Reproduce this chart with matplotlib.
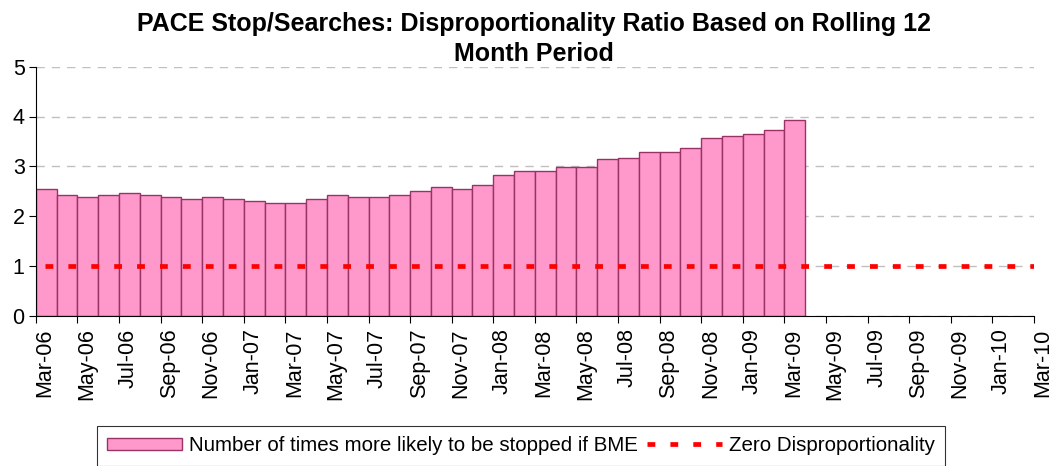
import numpy as np
import matplotlib
matplotlib.use("Agg")
import matplotlib.pyplot as plt
import matplotlib.transforms as mtransforms

plt.rcParams['font.family'] = ['Liberation Sans', 'DejaVu Sans']

# data: rolling 12 month ratio, one bar per month from Mar-06 to Mar-09
ratio = [2.54, 2.42, 2.38, 2.42, 2.46, 2.42, 2.38, 2.34, 2.38, 2.34,
         2.30, 2.26, 2.26, 2.34, 2.42, 2.38, 2.38, 2.42, 2.50, 2.58,
         2.54, 2.62, 2.82, 2.90, 2.90, 2.98, 2.98, 3.14, 3.17, 3.29,
         3.29, 3.37, 3.57, 3.61, 3.65, 3.73, 3.93]
n_months = 48   # Mar-06 .. Mar-10
zero_line = [1] * (n_months + 1)
tick_labels = ['Mar-06', 'May-06', 'Jul-06', 'Sep-06', 'Nov-06', 'Jan-07',
               'Mar-07', 'May-07', 'Jul-07', 'Sep-07', 'Nov-07', 'Jan-08',
               'Mar-08', 'May-08', 'Jul-08', 'Sep-08', 'Nov-08', 'Jan-09',
               'Mar-09', 'May-09', 'Jul-09', 'Sep-09', 'Nov-09', 'Jan-10',
               'Mar-10']

fig = plt.figure(figsize=(10.57, 4.66), dpi=100)
ax = fig.add_axes([0.0338, 0.322, 0.9445, 0.535])

bars = ax.bar(np.arange(len(ratio)), ratio, width=1.0, align='edge',
              color='#FF99CC', edgecolor='#993366', linewidth=1.0, zorder=2)
line, = ax.plot(np.arange(n_months + 1) + 0.45, zero_line, color='#FF0000', lw=3.4,
                linestyle=(0, (1.65, 3.2)), zorder=3)

ax.set_yticks(range(6))
ax.set_xticks(np.arange(0, n_months + 1, 2))
ax.set_xticklabels(tick_labels, rotation=90)
ax.set_xlim(0, n_months)
ax.set_ylim(0, 5)
ax.tick_params(axis='both', labelsize=15.5, direction='out', length=5, color='black')
ax.tick_params(axis='x', pad=4)
ax.tick_params(axis='y', pad=3)
# labels sit in the middle of the month, right of the tick mark
shift = mtransforms.ScaledTranslation(9 / 100, 0, fig.dpi_scale_trans)
for lab in ax.get_xticklabels():
    lab.set_transform(lab.get_transform() + shift)
ax.yaxis.grid(True, color='#c0c0c0', linestyle=(0, (6, 5)), linewidth=1, zorder=0)
ax.set_axisbelow(True)
ax.spines['top'].set_visible(False)
ax.spines['right'].set_visible(False)

fig.text(0.505, 0.975, 'PACE Stop/Searches: Disproportionality Ratio Based on Rolling 12\nMonth Period',
         ha='center', va='top', fontsize=18, fontweight='bold', linespacing=1.35)

leg = fig.legend([bars, line],
                 ['Number of times more likely to be stopped if BME', 'Zero Disproportionality'],
                 loc='upper left', bbox_to_anchor=(97 / 1057, 1 - 426 / 466), ncol=2,
                 fontsize=14.8, frameon=True, fancybox=False, edgecolor='black',
                 borderpad=0.5, borderaxespad=0, handlelength=3.65, handleheight=0.58,
                 columnspacing=0.44, handletextpad=0.34)
leg.get_frame().set_linewidth(0.8)

fig.savefig('out.png', dpi=100)
